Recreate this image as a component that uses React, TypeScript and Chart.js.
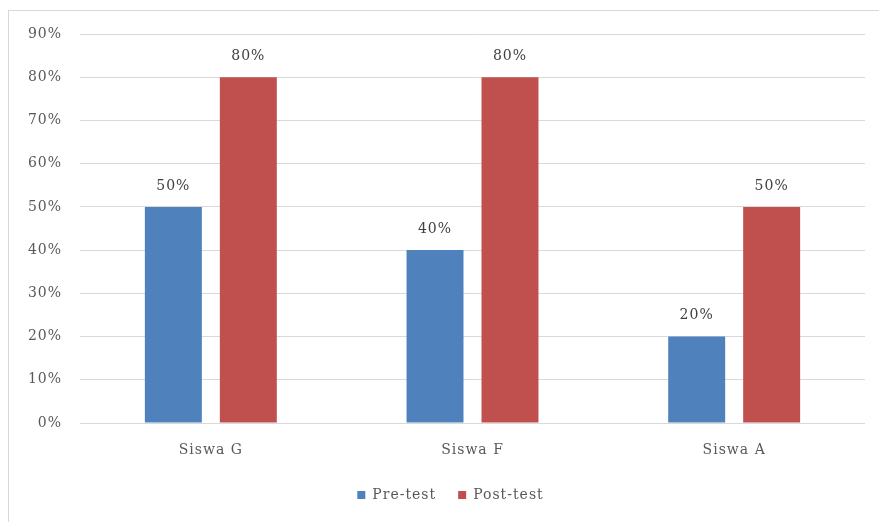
import React, { useEffect, useRef } from "react";
import { Chart, registerables } from "chart.js";

Chart.register(...registerables);

const categories = ["Siswa G", "Siswa F", "Siswa A"];
const preTest = [50, 40, 20];
const postTest = [80, 80, 50];
const seriesNames = ["Pre-test", "Post-test"];
const seriesColors = ["#4F81BD", "#C0504D"];

const FONT = "'DejaVu Serif', 'Liberation Serif', serif";
const SPACING = "1px";

const spacingPlugin = {
  id: "spacing",
  beforeUpdate(chart: any) {
    chart.ctx.letterSpacing = SPACING;
  },
  beforeLayout(chart: any) {
    chart.ctx.letterSpacing = SPACING;
  },
  afterLayout(chart: any) {
    if (chart.legend) {
      chart.legend.left += 18;
      chart.legend.right += 18;
    }
  },
  beforeDraw(chart: any) {
    chart.ctx.letterSpacing = SPACING;
  },
};

const framePlugin = {
  id: "frame",
  beforeDraw(chart: any) {
    const ctx = chart.ctx;
    ctx.save();
    ctx.strokeStyle = "#d9d9d9";
    ctx.lineWidth = 1;
    ctx.strokeRect(8.5, 10.5, 1000, 1000);
    ctx.restore();
  },
};

const labelPlugin = {
  id: "valueLabels",
  afterDatasetsDraw(chart: any) {
    const ctx = chart.ctx;
    ctx.save();
    ctx.font = `14px ${FONT}`;
    ctx.fillStyle = "#404040";
    ctx.textAlign = "center";
    ctx.textBaseline = "bottom";
    chart.data.datasets.forEach((ds: any, i: number) => {
      const meta = chart.getDatasetMeta(i);
      meta.data.forEach((bar: any, j: number) => {
        ctx.fillText(ds.data[j] + "%", bar.x, bar.y - 14);
      });
    });
    ctx.restore();
  },
};

export default function App() {
  const ref = useRef<HTMLCanvasElement>(null);
  useEffect(() => {
    if (!ref.current) return;
    const chart = new Chart(ref.current, {
      type: "bar",
      data: {
        labels: categories,
        datasets: [
          { label: seriesNames[0], data: preTest, backgroundColor: seriesColors[0] },
          { label: seriesNames[1], data: postTest, backgroundColor: seriesColors[1] },
        ],
      },
      options: {
        animation: false,
        responsive: false,
        maintainAspectRatio: false,
        layout: { padding: { left: 0, right: 14, top: 34, bottom: 10 } },
        datasets: { bar: { categoryPercentage: 0.573, barPercentage: 0.76 } },
        scales: {
          x: {
            grid: { display: false, drawTicks: false },
            border: { display: false },
            ticks: { color: "#595959", font: { family: FONT, size: 14 }, padding: 19 },
            afterFit(scale: any) {
              scale.height = 43;
            },
          },
          y: {
            min: 0,
            max: 90,
            grid: { color: "#d9d9d9", drawTicks: false },
            border: { display: false },
            ticks: {
              stepSize: 10,
              color: "#595959",
              font: { family: FONT, size: 14 },
              padding: 18,
              callback: (v: any) => v + "%",
            },
            afterFit(scale: any) {
              scale.width = 80;
            },
          },
        },
        plugins: {
          legend: {
            position: "bottom",
            labels: {
              boxWidth: 8,
              boxHeight: 8,
              padding: 22,
              color: "#595959",
              font: { family: FONT, size: 14 },
            },
          },
          tooltip: { enabled: false },
        },
      },
      plugins: [spacingPlugin, framePlugin, labelPlugin],
    });
    return () => chart.destroy();
  }, []);
  return (
    <div style={{ position: "absolute", left: 0, top: 0, width: 879, height: 522 }}>
      <canvas ref={ref} width={879} height={522} style={{ width: 879, height: 522 }} />
    </div>
  );
}
